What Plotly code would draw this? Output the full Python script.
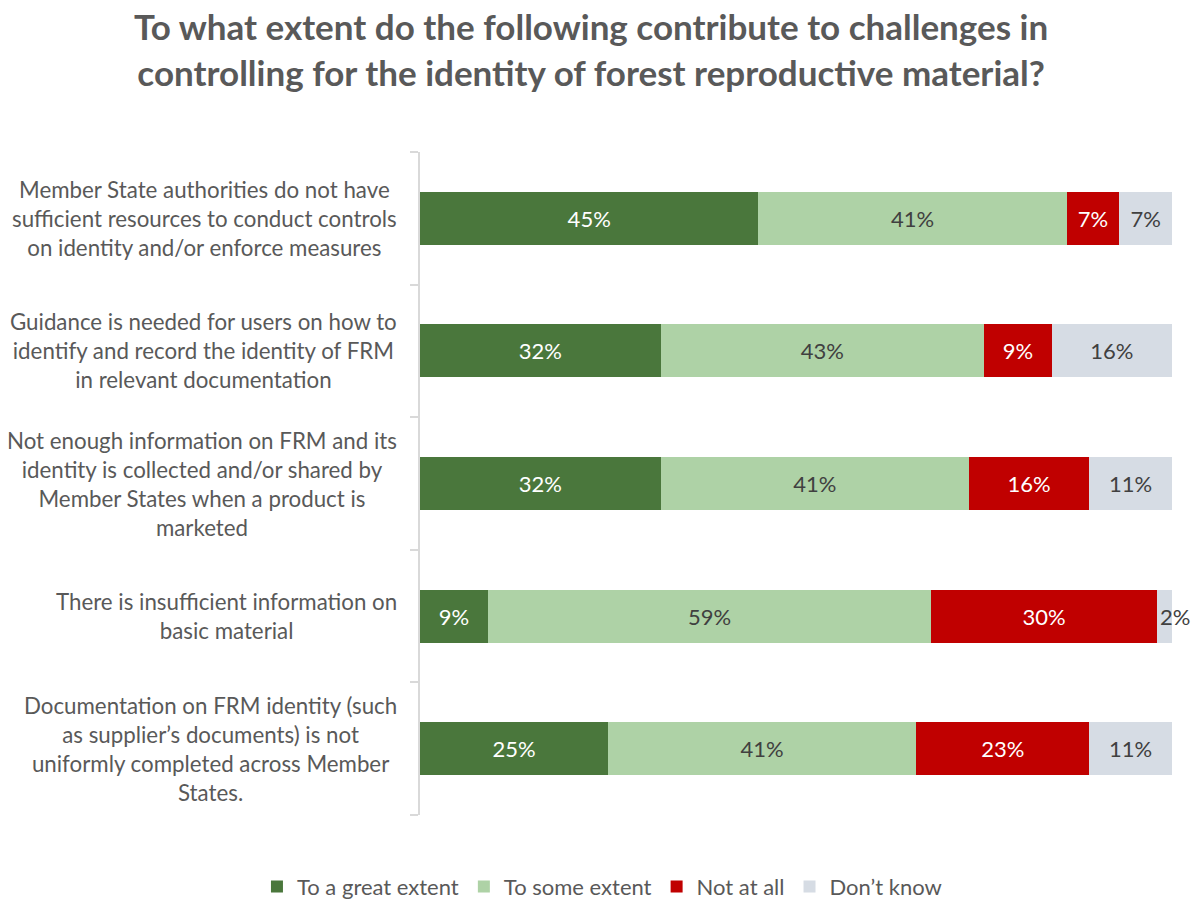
import plotly.graph_objects as go

# Survey statements (top to bottom)
categories = [
    "Member State authorities do not have<br>sufficient resources to conduct controls<br>on identity and/or enforce measures",
    "Guidance is needed for users on how to<br>identify and record the identity of FRM<br>in relevant documentation",
    "Not enough information on FRM and its<br>identity is collected and/or shared by<br>Member States when a product is<br>marketed",
    "There is insufficient information on<br>basic material",
    "Documentation on FRM identity (such<br>as supplier\u2019s documents) is not<br>uniformly completed across Member<br>States.",
]

great_extent = [45, 32, 32, 9, 25]
some_extent = [41, 43, 41, 59, 41]
not_at_all = [7, 9, 16, 30, 23]
dont_know = [7, 16, 11, 2, 11]

series_names = ["To a great extent", "To some extent", "Not at all", "Don\u2019t know"]
series_values = [great_extent, some_extent, not_at_all, dont_know]
series_colors = ["#4A773C", "#AED2A6", "#C00000", "#D6DCE4"]
text_colors = ["#FFFFFF", "#404040", "#FFFFFF", "#404040"]

FONT = "Lato"
GREY = "#595959"
TITLE = "To what extent do the following contribute to challenges in<br>controlling for the identity of forest reproductive material?"
y_pos = list(range(len(categories)))

fig = go.Figure()
for name, vals, col, tcol in zip(series_names, series_values, series_colors, text_colors):
    # very short segments get their label placed as an annotation instead
    labels = [f"{v}%" if v >= 5 else "" for v in vals]
    fig.add_trace(go.Bar(
        y=y_pos, x=vals, name=name, orientation="h",
        marker=dict(color=col, line=dict(width=0)),
        text=labels, textposition="inside", insidetextanchor="middle",
        textfont=dict(family=FONT, size=22, color=tcol),
        constraintext="none", hoverinfo="skip",
    ))

annotations = []
# labels for segments too narrow to hold their text
for i in y_pos:
    v = dont_know[i]
    if v < 5:
        total = great_extent[i] + some_extent[i] + not_at_all[i] + dont_know[i]
        annotations.append(dict(
            x=total - v / 2, y=i, xref="x", yref="y", text=f"{v}%",
            showarrow=False, xanchor="center", xshift=11,
            font=dict(family=FONT, size=22, color="#404040"),
        ))

# category labels: centred text blocks, right-aligned to the axis
for i, cat in enumerate(categories):
    annotations.append(dict(
        x=0, y=i, xref="paper", yref="y", text=cat, showarrow=False,
        xanchor="right", yanchor="middle", align="center", xshift=-21,
        font=dict(family=FONT, size=22.3, color=GREY),
    ))

# chart title
annotations.append(dict(
    x=0.2274, y=1, xref="paper", yref="paper", text=TITLE, showarrow=False,
    xanchor="center", yanchor="middle", align="center", yshift=103,
    font=dict(family=FONT, size=35, color=GREY, weight="bold"),
))

fig.update_layout(
    barmode="stack",
    bargap=0.6,
    width=1192, height=902,
    margin=dict(l=420, r=20, t=152, b=87),
    plot_bgcolor="white", paper_bgcolor="white",
    xaxis=dict(range=[0, 100], visible=False, fixedrange=True),
    yaxis=dict(
        range=[len(categories) - 0.5, -0.5],
        showticklabels=False, showgrid=False, zeroline=False,
        showline=True, linecolor="#D9D9D9", linewidth=2,
        ticks="",
        tickvals=y_pos,
        minor=dict(
            tickvals=[i - 0.5 for i in range(len(categories) + 1)],
            ticks="outside", ticklen=8, tickcolor="#D9D9D9", tickwidth=2,
            showgrid=False,
        ),
        fixedrange=True,
    ),
    legend=dict(
        orientation="h", xref="container", yref="container",
        x=0.505, xanchor="center", y=0.017, yanchor="middle",
        font=dict(family=FONT, size=22, color=GREY),
        traceorder="normal", itemwidth=30,
    ),
    annotations=annotations,
    uniformtext=dict(mode=False),
)

fig.write_html("out.html")
